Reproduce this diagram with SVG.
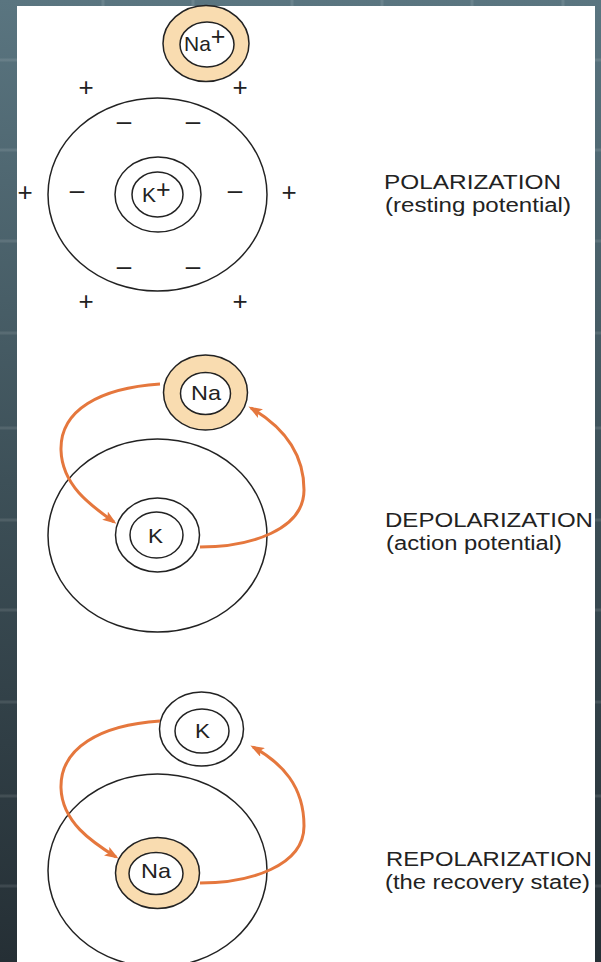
<svg xmlns="http://www.w3.org/2000/svg" width="601" height="962" viewBox="0 0 601 962">
  <defs>
    <linearGradient id="bgGrad" x1="0" y1="0" x2="0" y2="1">
      <stop offset="0" stop-color="#5a7580"/>
      <stop offset="0.5" stop-color="#3d5058"/>
      <stop offset="1" stop-color="#252f35"/>
    </linearGradient>
    <marker id="ah" markerWidth="14" markerHeight="10" refX="11" refY="5" orient="auto" markerUnits="userSpaceOnUse">
      <path d="M0,0 L14,5 L0,10 L3,5 z" fill="#e5773d"/>
    </marker>
    <style>
      .line { fill: none; stroke: #222; stroke-width: 1.5; }
      .ring { fill: #fff; stroke: #222; stroke-width: 1.5; }
      .naring { fill: #f9dcb0; stroke: #222; stroke-width: 1.5; }
      .ion { font-family: "Liberation Sans", Arial, sans-serif; font-size: 21px; fill: #222; }
      .sup { font-size: 25px; }
      .sign { font-family: "Liberation Sans", Arial, sans-serif; font-size: 26px; fill: #222; text-anchor: middle; }
      .label { font-family: "Liberation Sans", Arial, sans-serif; font-size: 20px; fill: #222; }
      .grid { stroke: #ffffff; stroke-opacity: 0.1; stroke-width: 3; }
      .arrow { fill: none; stroke: #e5773d; stroke-width: 3; marker-end: url(#ah); }
    </style>
  </defs>

  <g id="background">
    <rect x="0" y="0" width="601" height="962" fill="url(#bgGrad)"/>
    <g class="grid">
      <line x1="0" y1="60" x2="601" y2="60"/>
      <line x1="0" y1="150" x2="601" y2="150"/>
      <line x1="0" y1="241" x2="601" y2="241"/>
      <line x1="0" y1="333" x2="601" y2="333"/>
      <line x1="0" y1="428" x2="601" y2="428"/>
      <line x1="0" y1="520" x2="601" y2="520"/>
      <line x1="0" y1="610" x2="601" y2="610"/>
      <line x1="0" y1="702" x2="601" y2="702"/>
      <line x1="0" y1="796" x2="601" y2="796"/>
      <line x1="0" y1="886" x2="601" y2="886"/>
      <line x1="103" y1="0" x2="103" y2="962"/>
      <line x1="193" y1="0" x2="193" y2="962"/>
      <line x1="292" y1="0" x2="292" y2="962"/>
      <line x1="382" y1="0" x2="382" y2="962"/>
      <line x1="472" y1="0" x2="472" y2="962"/>
      <line x1="563" y1="0" x2="563" y2="962"/>
    </g>
    <rect x="17" y="6" width="578" height="956" fill="#ffffff"/>
  </g>

  <!-- Panel 1: Polarization -->
  <g id="cell1">
    <ellipse class="line" cx="157.5" cy="194.5" rx="109.5" ry="96.5"/>
  </g>
  <g id="na1">
    <ellipse class="naring" cx="206" cy="43.5" rx="43" ry="38"/>
    <ellipse class="ring" cx="207" cy="44.5" rx="27" ry="22.5"/>
    <text class="ion" x="184" y="51">Na<tspan class="sup" dy="-6">+</tspan></text>
  </g>
  <g id="k1">
    <ellipse class="ring" cx="158" cy="194.5" rx="43" ry="37.5"/>
    <ellipse class="ring" cx="157.5" cy="194.5" rx="25.5" ry="22.5"/>
    <text class="ion" x="142" y="202">K<tspan class="sup" dy="-4">+</tspan></text>
  </g>
  <g id="signs1">
    <text class="sign" x="86" y="96">+</text>
    <text class="sign" x="240" y="96">+</text>
    <text class="sign" x="25" y="201">+</text>
    <text class="sign" x="289" y="201">+</text>
    <text class="sign" x="86" y="310">+</text>
    <text class="sign" x="240" y="310">+</text>
    <text class="sign" x="124" y="130">–</text>
    <text class="sign" x="193" y="130">–</text>
    <text class="sign" x="77" y="199">–</text>
    <text class="sign" x="235" y="199">–</text>
    <text class="sign" x="124" y="275">–</text>
    <text class="sign" x="193" y="275">–</text>
  </g>
  <g id="label1">
    <text class="label" x="384" y="189" textLength="177" lengthAdjust="spacingAndGlyphs">POLARIZATION</text>
    <text class="label" x="385" y="212" textLength="186" lengthAdjust="spacingAndGlyphs">(resting potential)</text>
  </g>

  <!-- Panel 2: Depolarization -->
  <g id="cell2">
    <ellipse class="line" cx="157.5" cy="535.5" rx="109.5" ry="96.5"/>
  </g>
  <g id="na2">
    <ellipse class="naring" cx="205.5" cy="392.5" rx="42" ry="37.5"/>
    <ellipse class="ring" cx="205.5" cy="393.5" rx="25" ry="21"/>
    <text class="ion" x="191" y="400" textLength="30" lengthAdjust="spacingAndGlyphs">Na</text>
  </g>
  <g id="k2">
    <ellipse class="ring" cx="157.5" cy="535" rx="42" ry="37"/>
    <ellipse class="ring" cx="156.5" cy="535" rx="26.5" ry="23"/>
    <text class="ion" x="148" y="543" textLength="15" lengthAdjust="spacingAndGlyphs">K</text>
  </g>
  <g id="label2">
    <text class="label" x="385" y="527" textLength="208" lengthAdjust="spacingAndGlyphs">DEPOLARIZATION</text>
    <text class="label" x="386" y="550" textLength="176" lengthAdjust="spacingAndGlyphs">(action potential)</text>
  </g>

  <!-- Panel 3: Repolarization -->
  <g id="cell3">
    <ellipse class="line" cx="157.5" cy="870.5" rx="109.5" ry="96.5"/>
  </g>
  <g id="k3">
    <ellipse class="ring" cx="201.5" cy="729" rx="42" ry="37"/>
    <ellipse class="ring" cx="202" cy="731" rx="27" ry="22"/>
    <text class="ion" x="195" y="738" textLength="15" lengthAdjust="spacingAndGlyphs">K</text>
  </g>
  <g id="na3">
    <ellipse class="naring" cx="157.5" cy="873" rx="42" ry="35.5"/>
    <ellipse class="ring" cx="156" cy="873.5" rx="27" ry="21"/>
    <text class="ion" x="141" y="878" textLength="30" lengthAdjust="spacingAndGlyphs">Na</text>
  </g>
  <g id="label3">
    <text class="label" x="386" y="866" textLength="206" lengthAdjust="spacingAndGlyphs">REPOLARIZATION</text>
    <text class="label" x="385" y="889" textLength="205" lengthAdjust="spacingAndGlyphs">(the recovery state)</text>
  </g>

  <g id="connectors">
    <path class="arrow" d="M160,384 C100,388 60,410 61,450 C62,485 90,505 114,522"/>
    <path class="arrow" d="M200,547 C250,547 304,530 304,490 C304,450 280,425 251,408"/>
    <path class="arrow" d="M160,721 C100,725 60,748 61,788 C62,822 92,842 116,857"/>
    <path class="arrow" d="M200,883 C250,883 304,866 304,826 C304,786 282,763 253,747"/>
  </g>
</svg>
